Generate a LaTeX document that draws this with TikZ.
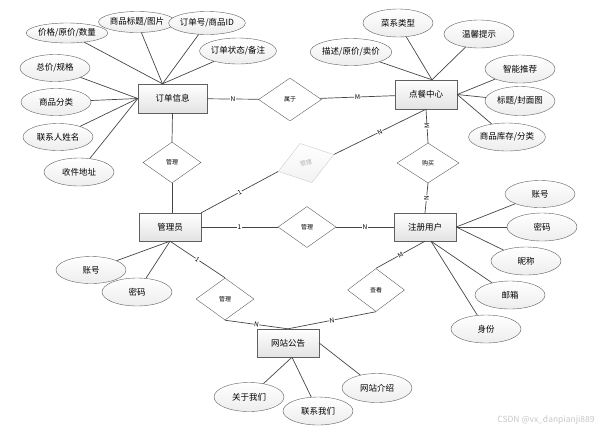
\documentclass[tikz,border=0pt]{standalone}
\usepackage{fontspec}
\newfontfamily\cjk{Noto Sans CJK SC}
\usetikzlibrary{shapes.geometric,shadows}

\tikzset{
    entity/.style={draw=gray!75!black, top color=white, bottom color=gray!22, minimum width=62pt, minimum height=28pt, inner sep=0pt, font=\cjk\fontsize{8.5}{9}\selectfont, drop shadow={opacity=0.25, shadow xshift=1pt, shadow yshift=-1pt}},
    attr/.style={ellipse, draw=gray!75!black, top color=white, bottom color=gray!14, minimum width=70pt, minimum height=27pt, inner sep=0pt, font=\cjk\fontsize{8.5}{9}\selectfont},
    rel/.style={diamond, draw=gray!75!black, fill=white, minimum width=58pt, minimum height=41pt, inner sep=0pt, font=\cjk\fontsize{6}{6}\selectfont},
    link/.style={draw=gray!55!black, line width=0.7pt},
    card/.style={font=\cjk\fontsize{6.5}{6.5}\selectfont, fill=white, inner sep=0.4pt},
}

\begin{document}
\begin{tikzpicture}[x=1pt, y=-1pt]
    \useasboundingbox (0,0) rectangle (615,432);

    \node[entity, minimum width=69pt, minimum height=29pt] (dd) at (172.5,98.5) {订单信息};
    \node[entity, minimum height=29pt] (dc) at (426,94.5) {点餐中心};
    \node[entity] (gly) at (170,227) {管理员};
    \node[entity] (zc) at (425,227) {注册用户};
    \node[entity] (gg) at (288,343) {网站公告};

    \node[rel, minimum width=63pt, minimum height=43pt] (sy) at (290,99.5) {属于};
    \node[rel] (gl1) at (172,162.5) {管理};
    \node[rel, rotate=17, draw=gray!40, top color=white, bottom color=gray!10, text=gray!60] (gl2) at (306,163) {管理};
    \node[rel] (gl3) at (307,227) {管理};
    \node[rel, minimum width=62pt, minimum height=40pt] (gm) at (428,163) {购买};
    \node[rel, minimum height=42pt] (gl4) at (225,299) {管理};
    \node[rel, minimum width=57pt, minimum height=43pt] (ck) at (376,290) {查看};

    \node[attr, minimum height=20pt] (a1) at (67,33) {价格/原价/数量};
    \node[attr, minimum height=21pt] (a2) at (137,22) {商品标题/图片};
    \node[attr, minimum height=23pt] (a3) at (207,23) {订单号/商品ID};
    \node[attr, minimum height=26pt] (a4) at (238,51) {订单状态/备注};
    \node[attr] (a5) at (55,68) {总价/规格};
    \node[attr] (a6) at (56,102) {商品分类};
    \node[attr] (a7) at (58,137) {联系人姓名};
    \node[attr, minimum height=28pt] (a8) at (79,172) {收件地址};

    \node[attr] (b1) at (351,52) {描述/原价/卖价};
    \node[attr, minimum height=28pt] (b2) at (398,23) {菜系类型};
    \node[attr, minimum height=28pt] (b3) at (479,34) {温馨提示};
    \node[attr, minimum height=28pt] (b4) at (520,69) {智能推荐};
    \node[attr, minimum height=29pt] (b5) at (520,101) {标题/封面图};
    \node[attr, minimum height=28pt] (b6) at (507,137) {商品库存/分类};

    \node[attr] (c1) at (540,194) {账号};
    \node[attr, minimum height=28pt] (c2) at (542,227) {密码};
    \node[attr, minimum height=28pt] (c3) at (526,261) {昵称};
    \node[attr, minimum height=28pt] (c4) at (510,295) {邮箱};
    \node[attr, minimum height=28pt] (c5) at (486,329) {身份};

    \node[attr] (d1) at (91,270) {账号};
    \node[attr, minimum height=28pt] (d2) at (137,292) {密码};

    \node[attr, minimum height=29pt] (e1) at (249,397) {关于我们};
    \node[attr, minimum height=28pt] (e2) at (318,411) {联系我们};
    \node[attr, minimum height=29pt] (e3) at (377,388) {网站介绍};

    \coordinate (ddt) at ([xshift=-10pt]dd.north);
    \coordinate (dct) at ([xshift=6pt]dc.north);
    \coordinate (zcb) at ([xshift=6pt]zc.south);
    \coordinate (ggb) at ([xshift=4pt]gg.south);

    \foreach \a in {a1,a2,a3,a4} \draw[link] (\a) -- (ddt);
    \foreach \a in {a5,a6,a7,a8} \draw[link] (\a) -- (dd.west);
    \foreach \b in {b1,b2,b3} \draw[link] (\b) -- (dct);
    \foreach \b in {b4,b5,b6} \draw[link] (\b) -- (dc.east);
    \foreach \c in {c1,c2,c3} \draw[link] (\c) -- (zc.east);
    \foreach \c in {c4,c5} \draw[link] (\c) -- (zcb);
    \foreach \d in {d1,d2} \draw[link] (\d) -- (gly.south);
    \foreach \e in {e1,e2} \draw[link] (\e) -- (ggb);
    \draw[link] (e3) -- (gg.east);

    \draw[link] (dd) -- node[card] {N} (sy);
    \draw[link] (sy) -- node[card] {M} (dc);
    \draw[link] (dd.south) -- (gl1.north);
    \draw[link] (gl1.south) -- (gly.north -| gl1.south);
    \draw[link] (gly.north east) -- node[card, sloped] {1} (gl2.west);
    \draw[link] (gl2.east) -- node[card, sloped] {N} (dc.south);
    \draw[link] (gly) -- node[card] {1} (gl3);
    \draw[link] (gl3) -- node[card] {N} (zc);
    \draw[link] (dc.south) -- node[card, rotate=90] {M} (gm.north);
    \draw[link] (gm.south) -- node[card, rotate=90] {N} (zc.north);
    \draw[link] (gly.south) -- node[card, sloped] {1} (gl4.north);
    \draw[link] (gl4.south) -- node[card, sloped] {N} (gg.north);
    \draw[link] (zc.south) -- node[card, sloped] {M} (ck.north);
    \draw[link] (ck.south) -- node[card, sloped] {N} (gg.north);

    \node[text=gray!45, font=\cjk\fontsize{8.5}{9}\selectfont] (wm) at (546,420) {CSDN @vx\_danpianji889};
\end{tikzpicture}
\end{document}
